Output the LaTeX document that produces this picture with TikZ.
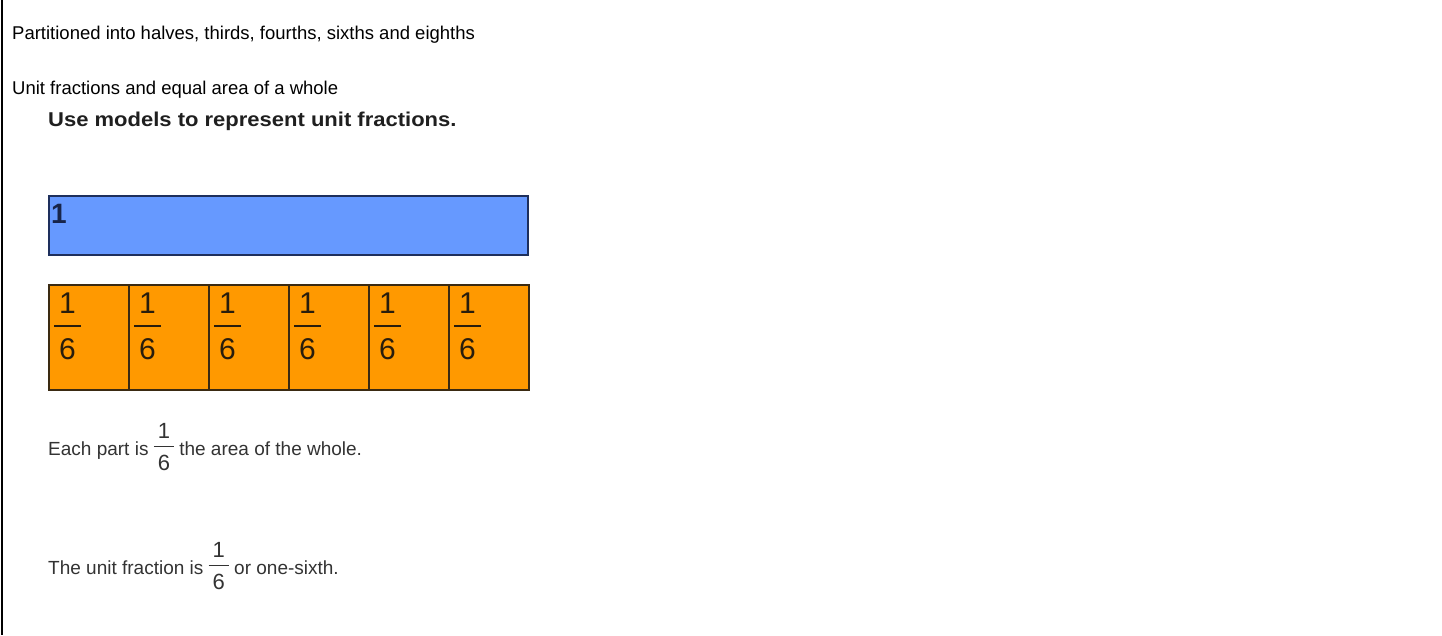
\documentclass[tikz,border=0pt]{standalone}
\usepackage{fontspec}
\setmainfont{Liberation Sans}
\newfontfamily\headfont[FakeStretch=1.1]{Liberation Sans}
\definecolor{wholeblue}{HTML}{6699FF}
\definecolor{wholeedge}{HTML}{1E2F5C}
\definecolor{partorange}{HTML}{FF9900}
\definecolor{partedge}{HTML}{3A2A12}
\definecolor{bodygray}{HTML}{333333}
% one sixth, stacked, for the parts of the bar
\newcommand{\sixthstack}{{\fontsize{30}{36}\selectfont\setlength{\arrayrulewidth}{1.6pt}%
  \begin{tabular}[b]{@{\hspace{5pt}}c@{\hspace{5pt}}}\rule[-12pt]{0pt}{12pt}1\\\hline\rule{0pt}{32pt}6\end{tabular}}}
% one sixth, inside a sentence
\newcommand{\sixthinline}{\raisebox{-15pt}{\fontsize{22}{26}\selectfont\setlength{\arrayrulewidth}{1.2pt}%
  \begin{tabular}[b]{@{\hspace{4pt}}c@{\hspace{4pt}}}\rule[-7pt]{0pt}{7pt}1\\\hline\rule{0pt}{23pt}6\end{tabular}}}
\begin{document}
\begin{tikzpicture}[x=1pt,y=-1pt,
  plain/.style={anchor=base west,inner sep=0,font=\fontsize{18.5}{22}\selectfont},
  bodytext/.style={plain,font=\fontsize{19}{23}\selectfont,text=bodygray},
  wholebox/.style={draw=wholeedge,fill=wholeblue,line width=2pt,anchor=north west,minimum width=479pt,minimum height=59pt,inner sep=0},
  partbox/.style={draw=partedge,fill=partorange,line width=1.5pt,anchor=north west,minimum width=80pt,minimum height=105pt,inner sep=0}]
\fill[white] (0,0) rectangle (1442,635);
\useasboundingbox (0,0) rectangle (1442,635);
\draw[line width=2pt] (2,0) -- (2,635);
\node[plain] (topic) at (12,39) {Partitioned into halves, thirds, fourths, sixths and eighths};
\node[plain] (focus) at (12,94) {Unit fractions and equal area of a whole};
\node[plain,font=\headfont\bfseries\fontsize{20}{24}\selectfont,text=black!88] (title) at (48,126) {Use models to represent unit fractions.};
\node[wholebox] (whole) at (48,195) {};
\node[plain,font=\bfseries\fontsize{28}{32}\selectfont,text=wholeedge!80!black] (one) at (51,223) {1};
\foreach \i in {0,...,5} {
  \node[partbox] (part\i) at (48+80*\i,284) {};
  \node[plain,text=partedge!70!black] (frac\i) at (54+80*\i,359) {\sixthstack};
}
\node[bodytext] (each) at (48,455) {Each part is \sixthinline{} the area of the whole.};
\node[bodytext] (unit) at (48,574) {The unit fraction is \sixthinline{} or one-sixth.};
\end{tikzpicture}
\end{document}
